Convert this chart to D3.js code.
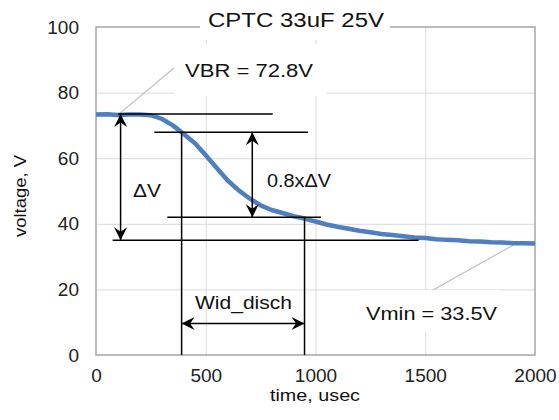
<!DOCTYPE html>
<html>
<head>
<meta charset="utf-8">
<script src="https://cdn.jsdelivr.net/npm/d3@7"></script>
<style>
  body { margin: 0; background: #fff; }
  svg { display: block; font-family: "Liberation Sans", Arial, sans-serif; }
</style>
</head>
<body>
<svg id="chart" width="559" height="420"></svg>
<script>
const width = 559
const height = 420
const margin = { top: 27, right: 24, bottom: 65, left: 96 }

// discharge curve (time in usec, voltage in V)
const times = [0, 50, 100, 150, 200, 250, 300, 350, 400, 450, 500, 550, 600, 650, 700, 750, 800, 850, 900, 950,
  1000, 1050, 1100, 1150, 1200, 1250, 1300, 1350, 1400, 1450, 1500, 1550, 1600, 1650, 1700, 1750, 1800, 1850, 1900, 1950, 2000]
const volts = [73.3, 73.4, 73.2, 73.3, 73.3, 73.1, 72.0, 70.0, 67.4, 64.6, 60.9, 57.0, 53.2, 50.2, 47.7, 45.6, 44.2, 43.3, 42.3, 41.6,
  40.7, 39.8, 39.1, 38.5, 37.9, 37.4, 36.9, 36.6, 36.2, 35.8, 35.7, 35.3, 35.1, 35.0, 34.7, 34.6, 34.4, 34.3, 34.1, 34.1, 34.0]

const xTicks = [0, 500, 1000, 1500, 2000]
const yTicks = [0, 20, 40, 60, 80, 100]

// annotation levels
const vbrLevel = 73.5
const upperLevel = 67.9
const lowerLevel = 42.0
const baseLevel = 35.0
const tStart = 390
const tEnd = 950
const widLevel = 9.6

const svg = d3.select('#chart')

const x = d3.scaleLinear().domain([0, 2000]).range([margin.left, width - margin.right])
const y = d3.scaleLinear().domain([0, 100]).range([height - margin.bottom, margin.top])

const ink = '#000'
const grid = '#d9d9d9'
const frame = '#a6a6a6'
const blue = '#4f7fbf'

// grid
svg.append('g')
  .attr('transform', `translate(0,${y(0)})`)
  .call(d3.axisBottom(x).tickValues(xTicks.slice(1, -1)).tickSize(-(y(0) - y(100))).tickFormat(''))
  .call(g => g.select('.domain').remove())
  .call(g => g.selectAll('line').attr('stroke', grid))
svg.append('g')
  .attr('transform', `translate(${x(0)},0)`)
  .call(d3.axisLeft(y).tickValues(yTicks.slice(1, -1)).tickSize(-(x(2000) - x(0))).tickFormat(''))
  .call(g => g.select('.domain').remove())
  .call(g => g.selectAll('line').attr('stroke', grid))

// plot frame
svg.append('rect')
  .attr('x', x(0)).attr('y', y(100))
  .attr('width', x(2000) - x(0)).attr('height', y(0) - y(100))
  .attr('fill', 'none').attr('stroke', frame).attr('stroke-width', 1.5)

// tick labels
svg.append('g')
  .attr('transform', `translate(0,${y(0)})`)
  .call(d3.axisBottom(x).tickValues(xTicks).tickSize(0).tickPadding(14).tickFormat(d3.format('d')))
  .call(g => g.select('.domain').remove())
  .call(g => g.selectAll('text').attr('font-size', 19).attr('fill', '#222').attr('font-family', null))
svg.append('g')
  .attr('transform', `translate(${x(0)},0)`)
  .call(d3.axisLeft(y).tickValues(yTicks).tickSize(0).tickPadding(17).tickFormat(d3.format('d')))
  .call(g => g.select('.domain').remove())
  .call(g => g.selectAll('text').attr('font-size', 19).attr('fill', '#222').attr('font-family', null))

// white boxes behind callouts
const box = (x0, y0, w, h) => svg.append('rect')
  .attr('x', x0).attr('y', y0).attr('width', w).attr('height', h).attr('fill', '#fff')
box(200, 8, 190, 32)
box(174, 44, 153, 52)
box(360, 290, 140, 42)

// leader lines
svg.append('line')
  .attr('x1', x(100)).attr('y1', y(volts[2]))
  .attr('x2', 174).attr('y2', 68)
  .attr('stroke', '#bfbfbf').attr('stroke-width', 1.2)
svg.append('line')
  .attr('x1', x(1900)).attr('y1', y(volts[38]) + 2)
  .attr('x2', 433).attr('y2', 290)
  .attr('stroke', '#bfbfbf').attr('stroke-width', 1.2)

// curve
const line = d3.line().x((d, i) => x(times[i])).y(d => y(d))
svg.append('path')
  .datum(volts)
  .attr('d', line)
  .attr('fill', 'none')
  .attr('stroke', blue)
  .attr('stroke-width', 4.5)
  .attr('stroke-linejoin', 'round')

// arrowhead marker
svg.append('defs').append('marker')
  .attr('id', 'arr')
  .attr('markerUnits', 'userSpaceOnUse')
  .attr('viewBox', '-14 -7 15 14')
  .attr('refX', 0).attr('refY', 0)
  .attr('markerWidth', 15).attr('markerHeight', 14)
  .attr('orient', 'auto-start-reverse')
  .append('path')
  .attr('d', 'M0,0 L-13,-6.5 L-8.5,0 L-13,6.5 Z')
  .attr('fill', ink)

const ann = svg.append('g').attr('stroke', ink).attr('stroke-width', 1.5)
const hl = (t1, t2, v) => ann.append('line').attr('x1', x(t1)).attr('x2', x(t2)).attr('y1', y(v)).attr('y2', y(v))
const vl = (t, v1, v2) => ann.append('line').attr('x1', x(t)).attr('x2', x(t)).attr('y1', y(v1)).attr('y2', y(v2))

hl(100, 805, vbrLevel)
hl(266, 966, upperLevel)
hl(325, 1025, lowerLevel)
hl(76, 1470, baseLevel)
vl(tStart, upperLevel, 0)
vl(tEnd, lowerLevel, 0)

vl(112, vbrLevel, baseLevel).attr('marker-start', 'url(#arr)').attr('marker-end', 'url(#arr)')
vl(712, upperLevel, lowerLevel).attr('marker-start', 'url(#arr)').attr('marker-end', 'url(#arr)')
hl(tStart, tEnd, widLevel).attr('marker-start', 'url(#arr)').attr('marker-end', 'url(#arr)')

// texts
const label = (tx, ty, txt, size, len, anchor = 'start') => svg.append('text')
  .attr('x', tx).attr('y', ty)
  .attr('font-size', size)
  .attr('text-anchor', anchor)
  .attr('fill', '#111')
  .attr('textLength', len)
  .attr('lengthAdjust', 'spacingAndGlyphs')
  .text(txt)

label(208, 27, 'CPTC 33uF 25V', 20, 176)
label(185, 77, 'VBR = 72.8V', 19, 128)
label(133, 197, '\u0394V', 19, 28)
label(267, 187, '0.8x\u0394V', 19, 64)
label(195, 309, 'Wid_disch', 19, 97)
label(366, 320, 'Vmin  = 33.5V', 19, 131)

label(270, 401, 'time, usec', 17, 90)
svg.append('text')
  .attr('transform', `translate(26,${196}) rotate(-90)`)
  .attr('text-anchor', 'middle')
  .attr('font-size', 17)
  .attr('fill', '#111')
  .attr('textLength', 82)
  .attr('lengthAdjust', 'spacingAndGlyphs')
  .text('voltage, V')
</script>
</body>
</html>
